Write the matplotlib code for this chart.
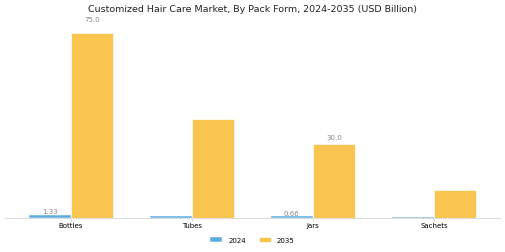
import matplotlib
matplotlib.use("Agg")
import matplotlib.pyplot as plt
import numpy as np

categories = ["Bottles", "Tubes", "Jars", "Sachets"]
values_2024 = [1.33, 0.9, 0.66, 0.5]
values_2035 = [75.0, 40.0, 30.0, 11.5]
labels_2024 = ["1.33", None, "0.66", None]
labels_2035 = ["75.0", None, "30.0", None]
series_names = ["2024", "2035"]
title = "Customized Hair Care Market, By Pack Form, 2024-2035 (USD Billion)"

c24 = "#5DADE2"
c35 = "#F9C54E"
label_offsets_2024 = [0.5, 0, 0.2, 0]
label_offsets_2035 = [7.5, 0, 3.2, 0]

fig = plt.figure(figsize=(5.05, 2.53), dpi=100)
ax = fig.add_axes([5/505, (253-219)/253, 495/505, 194/253])
x = np.arange(len(categories))
w = 0.35
b1 = ax.bar(x - w/2, values_2024, w, color=c24, edgecolor="white", linewidth=0.3, label=series_names[0])
b2 = ax.bar(x + w/2, values_2035, w, color=c35, edgecolor="white", linewidth=0.5, label=series_names[1])

for rect, lab, off in zip(b1, labels_2024, label_offsets_2024):
    if lab:
        ax.annotate(lab, (rect.get_x() + rect.get_width()/2, rect.get_height()),
                    xytext=(0, off), textcoords="offset points", ha="center", va="bottom",
                    fontsize=5, color="#888888")
for rect, lab, off in zip(b2, labels_2035, label_offsets_2035):
    if lab:
        ax.annotate(lab, (rect.get_x() + rect.get_width()/2, rect.get_height()),
                    xytext=(0, off), textcoords="offset points", ha="center", va="bottom",
                    fontsize=5, color="#888888")

ax.set_xlim(-0.545, 3.545)
ax.set_ylim(0, 78.6)
ax.set_xticks(x)
ax.set_xticklabels(categories, fontsize=5)
ax.tick_params(axis="x", length=2, width=0.5, color="#cccccc", pad=1)
ax.set_yticks([])
for s in ["top", "right", "left"]:
    ax.spines[s].set_visible(False)
ax.spines["bottom"].set_color("#dddddd")
ax.spines["bottom"].set_linewidth(0.8)

fig.text(0.5, 1 - 10/253, title, ha="center", va="center", fontsize=6.8, color="#222222")
leg = fig.legend(handles=[b1, b2], labels=series_names, loc="center",
                 bbox_to_anchor=(0.5, 1 - 241/253),
                 ncol=2, frameon=False, fontsize=5, handlelength=1.75, handleheight=0.55,
                 handletextpad=0.85, columnspacing=1.85)
fig.savefig("out.png", dpi=100)
